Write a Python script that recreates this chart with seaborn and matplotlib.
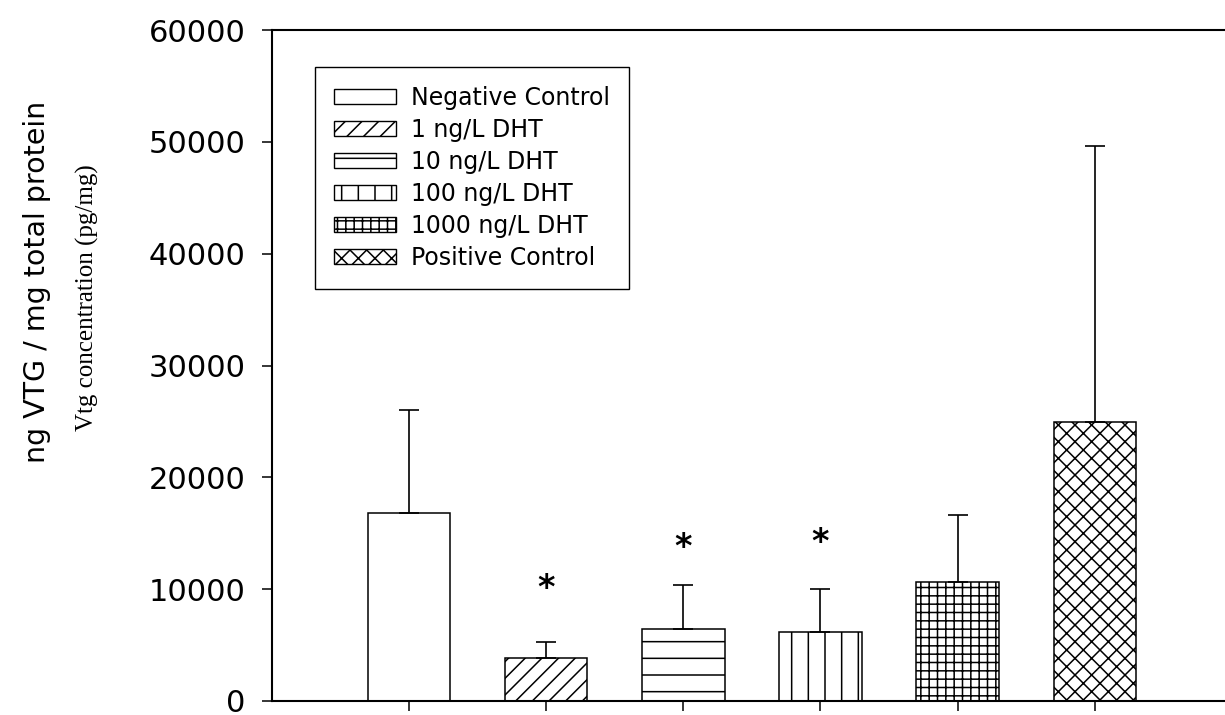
import matplotlib
matplotlib.use("Agg")
import matplotlib.pyplot as plt
from matplotlib.patches import Patch
import seaborn as sns
import numpy as np

# ---- data ----
groups = ["Negative Control", "1 ng/L DHT", "10 ng/L DHT", "100 ng/L DHT",
          "1000 ng/L DHT", "Positive Control"]
means = [16800, 3850, 6430, 6180, 10650, 24950]
errors = [9230, 1430, 3950, 3850, 6000, 24700]
hatches = ["", "//", "-", "|", "++", "xx"]
star_groups = [1, 2, 3]
star_y = [10100, 13750, 14150]
y_ticks = [0, 10000, 20000, 30000, 40000, 50000, 60000]

sns.set_theme(style="ticks")
plt.rcParams["font.family"] = ["DejaVu Sans"]
plt.rcParams["hatch.linewidth"] = 1.1
plt.rcParams["hatch.color"] = "black"

fig = plt.figure(figsize=(12.25, 7.15), dpi=100)
ax = fig.add_axes([272 / 1225, 1 - 701 / 715, 1 - 272 / 1225, (701 - 30) / 715])

sns.barplot(x=groups, y=means, order=groups, color="white", edgecolor="black",
            linewidth=1.1, width=0.6, errorbar=None, ax=ax, saturation=1)
for p, h in zip(ax.patches, hatches):
    p.set_hatch(h)
    p.set_facecolor("white")
    p.set_edgecolor("black")

xpos = np.arange(len(groups))
ax.errorbar(xpos, means, yerr=[np.zeros(len(means)), errors], fmt="none",
            ecolor="black", elinewidth=1.2, capsize=7.2, capthick=1.2, zorder=3)

for g, yv in zip(star_groups, star_y):
    ax.text(g, yv, "*", ha="center", va="center", fontsize=24, color="black",
            fontweight="bold")

ax.set_xlim(-1.0, 5.95)
ax.set_ylim(0, 60000)
ax.set_yticks(y_ticks)
ax.set_yticklabels([str(v) for v in y_ticks])
ax.set_xticks(xpos)
ax.set_xticklabels([])
ax.tick_params(axis="y", direction="out", length=7, width=1.1, labelsize=22, pad=12, colors="black")
ax.tick_params(axis="x", direction="out", length=7, width=1.1, colors="black")
ax.set_xlabel("")
ax.set_ylabel("")
for s in ["left", "bottom", "top"]:
    ax.spines[s].set_linewidth(1.5)
    ax.spines[s].set_color("black")
ax.spines["right"].set_visible(False)

handles = [Patch(facecolor="white", edgecolor="black", hatch=h, linewidth=1.0) for h in hatches]
leg = ax.legend(handles, groups, loc="upper left", bbox_to_anchor=(0.045, 0.945),
                borderaxespad=0, fontsize=17, handlelength=2.63, handleheight=0.6,
                handletextpad=0.64, labelspacing=0.34, borderpad=0.8,
                frameon=True, fancybox=False, framealpha=1, edgecolor="black")
leg.get_frame().set_linewidth(1.0)
for t in leg.get_texts():
    t.set_color("black")

fig.text(37 / 1225, 1 - 282 / 715, "ng VTG / mg total protein", rotation=90,
         ha="center", va="center", fontsize=20.5, color="black")
fig.text(87 / 1225, 1 - 298 / 715, "Vtg concentration (pg/mg)", rotation=90,
         ha="center", va="center", fontsize=18, color="black",
         family=["Liberation Serif", "DejaVu Serif"])

fig.savefig("out.png", dpi=100)
